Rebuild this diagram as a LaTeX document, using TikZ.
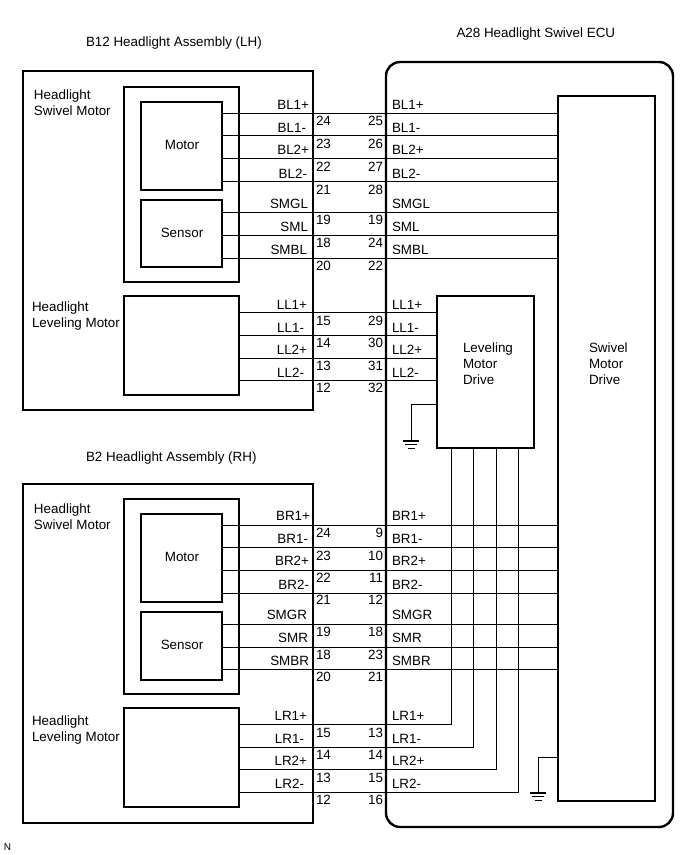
\documentclass[tikz,border=0pt]{standalone}
\usepackage{fontspec}
\setmainfont{Liberation Sans}
\usetikzlibrary{fit}
\tikzset{
  x=1pt,y=-1pt,
  every node/.style={font=\fontsize{13.4}{16}\selectfont,inner sep=0pt,outer sep=0pt},
  box/.style={draw=black,line width=2pt},
  ecubox/.style={draw=black,line width=2.4pt,rounded corners=14pt},
  wire/.style={draw=black,line width=1pt},
  lblr/.style={anchor=base east},
  lbll/.style={anchor=base west},
  gbar/.style={draw=black,line width=1pt},
}
\newcommand{\mkbox}[6][box]{\node[#1,fit={(#3,#4)(#5,#6)}] (#2) {};}
\begin{document}
\begin{tikzpicture}
\useasboundingbox[fill=white] (0,0) rectangle (690,855);
% boxes
\mkbox{lhouter}{23}{71}{313}{410}
\mkbox{lhinner}{124}{87}{239}{282}
\mkbox{lhmotor}{141}{102}{222}{190}
\mkbox{lhsensor}{141}{200}{222}{267}
\mkbox{lhlevel}{124}{296}{239}{395}
\mkbox{rhouter}{23}{484}{313}{823}
\mkbox{rhinner}{124}{499}{239}{694}
\mkbox{rhmotor}{141}{514}{222}{602}
\mkbox{rhsensor}{141}{612}{222}{680}
\mkbox{rhlevel}{124}{708}{239}{807}
\mkbox[ecubox]{ecu}{386}{62}{673}{827}
\mkbox{swivel}{558}{96}{655}{801}
\mkbox{lvdrive}{437}{296}{534}{448}
% motor / sensor wires to the swivel drive
\foreach \y in {113,135.5,158,181}{\draw[wire] (lhmotor.east |- 0,\y) -- (swivel.west |- 0,\y);}
\foreach \y in {212,235,258}{\draw[wire] (lhsensor.east |- 0,\y) -- (swivel.west |- 0,\y);}
\foreach \y in {525,547.5,570,593}{\draw[wire] (rhmotor.east |- 0,\y) -- (swivel.west |- 0,\y);}
\foreach \y in {624,647,669}{\draw[wire] (rhsensor.east |- 0,\y) -- (swivel.west |- 0,\y);}
% leveling wires
\foreach \y in {312,335,358,380}{\draw[wire] (lhlevel.east |- 0,\y) -- (lvdrive.west |- 0,\y);}
\foreach \y/\x in {724/451,747/473,769/496,792/518}{\draw[wire] (rhlevel.east |- 0,\y) -| (\x,0 |- lvdrive.south);}
% grounds
\coordinate (g1) at (411,441);
\coordinate (g2) at (538,793);
\draw[wire] (lvdrive.west |- 0,404) -| (g1);
\draw[wire] (swivel.west |- 0,757) -| (g2);
\foreach \gx/\gy in {411/441,538/793}{
  \draw[line width=1.6pt] (\gx-8,\gy) -- (\gx+8,\gy);
  \draw[gbar] (\gx-6,\gy+3.5) -- (\gx+6,\gy+3.5);
  \draw[gbar] (\gx-3.5,\gy+7.5) -- (\gx+3.5,\gy+7.5);
}
% titles
\node[lbll] (t1) at (86,46.6) {B12 Headlight Assembly (LH)};
\node[lbll] (t2) at (456.5,37.6) {A28 Headlight Swivel ECU};
\node[lbll] (t3) at (86,461.6) {B2 Headlight Assembly (RH)};
% block texts
\node[lbll] (a1) at (34,99) {Headlight};
\node[lbll] (a2) at (34,115) {Swivel Motor};
\node[lbll] (a3) at (32,311) {Headlight};
\node[lbll] (a4) at (32,327) {Leveling Motor};
\node[lbll] (a5) at (34,513) {Headlight};
\node[lbll] (a6) at (34,529) {Swivel Motor};
\node[lbll] (a7) at (32,725) {Headlight};
\node[lbll] (a8) at (32,741) {Leveling Motor};
\node[anchor=base] (m1) at (182,149.6) {Motor};
\node[anchor=base] (m2) at (182,237.6) {Sensor};
\node[anchor=base] (m3) at (182,561.6) {Motor};
\node[anchor=base] (m4) at (182,649.6) {Sensor};
\node[lbll] (d1) at (463,352) {Leveling};
\node[lbll] (d2) at (463,368) {Motor};
\node[lbll] (d3) at (463,384) {Drive};
\node[lbll] (d4) at (589,352) {Swivel};
\node[lbll] (d5) at (589,368) {Motor};
\node[lbll] (d6) at (589,384) {Drive};
\node[lbll,font=\fontsize{10}{10}\selectfont] (nn) at (4,850) {N};
% left pin labels: text/right edge/centre y
\foreach \t/\x/\y [count=\i] in {
 BL1+/309/105,BL1-/306/128,BL2+/309/150,BL2-/307/174,SMGL/308/204,SML/308/227,SMBL/307/250,
 LL1+/307/305,LL1-/304/328,LL2+/307/350,LL2-/304/373,
 BR1+/310/516,BR1-/308/539,BR2+/309/561,BR2-/309/585,SMGR/307/615,SMR/308/638,SMBR/309/661,
 LR1+/307/716,LR1-/304/739,LR2+/307/761,LR2-/304/784}
 {\node[lblr] (ll\i) at (\x,\y+4.6) {\t};}
% right pin labels: text/centre y
\foreach \t/\y [count=\i] in {
 BL1+/105,BL1-/128,BL2+/150,BL2-/174,SMGL/204,SML/227,SMBL/250,
 LL1+/305,LL1-/328,LL2+/350,LL2-/373,
 BR1+/516,BR1-/539,BR2+/561,BR2-/585,SMGR/615,SMR/638,SMBR/661,
 LR1+/716,LR1-/739,LR2+/761,LR2-/784}
 {\node[lbll] (rl\i) at (392,\y+4.6) {\t};}
% pin numbers: left/right/centre y
\foreach \a/\b/\y [count=\i] in {
 24/25/121,23/26/144,22/27/167,21/28/190,19/19/220,18/24/243,20/22/266,
 15/29/321,14/30/343,13/31/366,12/32/388,
 24/9/533,23/10/556,22/11/578,21/12/600,19/18/632,18/23/655,20/21/677,
 15/13/733,14/14/755,13/15/778,12/16/800}
 {\node[lbll] (pa\i) at (316,\y+4.6) {\a};
  \node[lblr] (pb\i) at (383,\y+4.6) {\b};}
\end{tikzpicture}
\end{document}
